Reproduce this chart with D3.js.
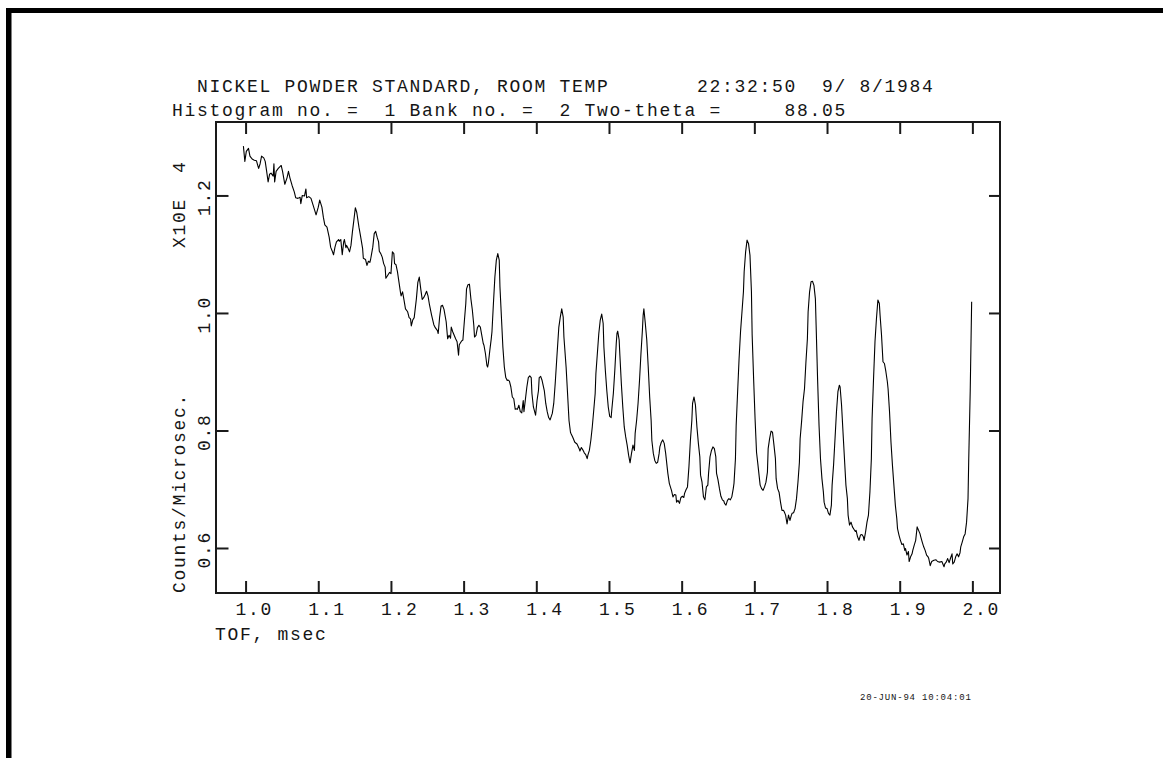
<!DOCTYPE html>
<html>
<head>
<meta charset="utf-8">
<script src="https://cdn.jsdelivr.net/npm/d3@7"></script>
<style>
  html, body { margin: 0; padding: 0; background: #fff; }
  svg { display: block; }
  .mono { font-family: "Liberation Mono", "Courier New", "DejaVu Sans Mono", monospace; fill: #151515; white-space: pre; }
</style>
</head>
<body>
<svg id="chart" width="1163" height="758"></svg>
<script>
// ---------------- data ----------------
const titleLine1 = "  NICKEL POWDER STANDARD, ROOM TEMP       22:32:50  9/ 8/1984";
const titleLine2 = "Histogram no. =  1 Bank no. =  2 Two-theta =     88.05";
const xAxisTitle = "TOF, msec";
const yAxisTitle = "Counts/Microsec.";
const yScaleNote = "X10E  4";
const stamp = "20-JUN-94 10:04:01";

const xTicks = [1.0, 1.1, 1.2, 1.3, 1.4, 1.5, 1.6, 1.7, 1.8, 1.9, 2.0];
const xTickLabels = ["1.0", "1.1", "1.2", "1.3", "1.4", "1.5", "1.6", "1.7", "1.8", "1.9", "2.0"];
const yTicks = [0.6, 0.8, 1.0, 1.2];
const yTickLabels = ["0.6", "0.8", "1.0", "1.2"];

// [TOF (msec), counts/microsec (x10^4)]
const spectrum = [
[0.997,1.284],[0.999,1.258],[1.001,1.275],[1.004,1.280],[1.006,1.267],[1.009,1.262],[1.012,1.260],[1.015,1.259],[1.017,1.250],[1.018,1.246],
[1.020,1.254],[1.022,1.267],[1.025,1.264],[1.027,1.258],[1.029,1.241],[1.031,1.223],[1.033,1.236],[1.035,1.238],[1.038,1.233],[1.039,1.254],
[1.040,1.223],[1.042,1.241],[1.045,1.246],[1.049,1.251],[1.051,1.240],[1.054,1.219],[1.057,1.230],[1.059,1.241],[1.061,1.230],[1.064,1.217],
[1.067,1.206],[1.069,1.196],[1.072,1.195],[1.075,1.197],[1.076,1.186],[1.078,1.200],[1.081,1.199],[1.083,1.211],[1.084,1.196],[1.087,1.198],
[1.090,1.195],[1.093,1.183],[1.095,1.175],[1.097,1.167],[1.100,1.180],[1.102,1.192],[1.105,1.180],[1.107,1.163],[1.109,1.150],[1.112,1.146],
[1.115,1.129],[1.117,1.112],[1.119,1.106],[1.121,1.099],[1.123,1.112],[1.125,1.121],[1.128,1.125],[1.129,1.122],[1.131,1.125],[1.133,1.099],
[1.135,1.121],[1.136,1.125],[1.138,1.111],[1.139,1.115],[1.141,1.110],[1.143,1.104],[1.145,1.115],[1.147,1.138],[1.149,1.158],[1.151,1.179],
[1.153,1.171],[1.156,1.146],[1.158,1.132],[1.161,1.110],[1.162,1.093],[1.165,1.091],[1.167,1.081],[1.169,1.088],[1.171,1.086],[1.172,1.091],
[1.175,1.112],[1.177,1.135],[1.179,1.139],[1.181,1.129],[1.183,1.121],[1.184,1.105],[1.186,1.101],[1.188,1.095],[1.190,1.084],[1.192,1.078],
[1.193,1.059],[1.195,1.063],[1.198,1.069],[1.200,1.067],[1.202,1.104],[1.204,1.101],[1.205,1.084],[1.207,1.082],[1.209,1.070],[1.211,1.053],
[1.213,1.036],[1.214,1.029],[1.216,1.036],[1.218,1.022],[1.220,1.007],[1.223,1.002],[1.225,0.992],[1.227,0.990],[1.228,0.978],[1.230,0.988],
[1.232,0.992],[1.235,1.024],[1.237,1.052],[1.239,1.061],[1.241,1.041],[1.243,1.023],[1.245,1.026],[1.247,1.031],[1.249,1.037],[1.251,1.029],
[1.253,1.014],[1.256,0.996],[1.259,0.980],[1.261,0.975],[1.264,0.970],[1.265,0.965],[1.267,0.993],[1.269,1.012],[1.271,1.013],[1.273,1.006],
[1.276,0.985],[1.278,0.956],[1.280,0.962],[1.282,0.957],[1.283,0.976],[1.285,0.968],[1.287,0.962],[1.289,0.956],[1.291,0.951],[1.293,0.928],
[1.294,0.946],[1.297,0.952],[1.299,0.954],[1.301,0.986],[1.303,1.016],[1.304,1.041],[1.306,1.048],[1.308,1.049],[1.310,1.024],[1.312,1.005],
[1.314,0.979],[1.315,0.959],[1.317,0.962],[1.319,0.975],[1.321,0.979],[1.323,0.976],[1.325,0.962],[1.327,0.948],[1.328,0.945],[1.330,0.931],
[1.332,0.911],[1.333,0.908],
[1.334,0.914],[1.336,0.936],[1.338,0.956],[1.339,0.968],[1.341,1.016],[1.343,1.061],[1.345,1.090],[1.347,1.101],[1.349,1.090],[1.350,1.044],
[1.352,0.993],[1.354,0.942],[1.356,0.908],[1.358,0.890],[1.360,0.885],[1.361,0.886],[1.363,0.884],[1.365,0.874],[1.367,0.857],[1.369,0.854],
[1.371,0.836],[1.372,0.837],[1.374,0.836],[1.376,0.843],[1.378,0.832],[1.380,0.830],[1.382,0.851],[1.383,0.832],[1.385,0.853],[1.387,0.874],
[1.389,0.890],[1.391,0.893],[1.393,0.890],[1.394,0.863],[1.396,0.840],[1.399,0.826],[1.401,0.851],[1.403,0.868],[1.404,0.890],[1.406,0.892],
[1.408,0.885],[1.411,0.868],[1.413,0.846],[1.415,0.832],[1.417,0.822],[1.419,0.818],[1.422,0.829],[1.424,0.846],[1.426,0.880],[1.428,0.919],
[1.431,0.976],[1.433,0.993],[1.435,1.007],[1.437,0.993],[1.438,0.959],[1.441,0.908],[1.443,0.863],[1.445,0.817],[1.447,0.797],[1.448,0.794],
[1.450,0.789],[1.453,0.780],[1.456,0.777],[1.459,0.769],[1.460,0.765],[1.462,0.771],[1.464,0.767],[1.466,0.762],[1.468,0.759],[1.470,0.752],
[1.471,0.758],[1.473,0.766],[1.475,0.783],[1.477,0.806],[1.479,0.834],[1.481,0.863],[1.482,0.897],[1.484,0.931],[1.486,0.965],[1.488,0.988],
[1.490,0.998],[1.492,0.982],[1.493,0.942],[1.495,0.902],[1.497,0.868],[1.499,0.840],[1.501,0.824],[1.503,0.822],[1.504,0.837],[1.506,0.863],
[1.508,0.902],[1.510,0.948],[1.511,0.965],[1.512,0.969],[1.514,0.954],[1.515,0.928],[1.517,0.880],[1.519,0.840],[1.521,0.806],[1.523,0.789],
[1.525,0.775],[1.527,0.758],[1.529,0.745],[1.531,0.761],[1.533,0.775],[1.535,0.766],[1.536,0.795],[1.538,0.817],[1.540,0.846],[1.542,0.885],
[1.544,0.931],[1.546,0.971],[1.547,0.996],[1.548,1.007],[1.550,0.982],[1.552,0.954],[1.554,0.908],[1.556,0.857],[1.558,0.817],[1.559,0.783],
[1.561,0.761],[1.563,0.749],[1.565,0.744],[1.567,0.746],[1.569,0.761],[1.570,0.772],[1.572,0.780],[1.574,0.784],[1.576,0.778],[1.578,0.761],
[1.580,0.738],[1.581,0.727],[1.583,0.710],[1.586,0.698],[1.588,0.687],[1.590,0.691],[1.592,0.690],[1.593,0.678],[1.595,0.681],[1.597,0.676],
[1.599,0.686],[1.601,0.688],[1.603,0.686],[1.604,0.693],[1.606,0.699],[1.608,0.704],[1.610,0.738],[1.612,0.783],[1.614,0.817],[1.615,0.846],
[1.617,0.857],[1.619,0.843],[1.621,0.806],[1.623,0.778],[1.625,0.755],[1.626,0.724],[1.628,0.712],[1.630,0.687],[1.632,0.682],[1.634,0.704],
[1.636,0.707],[1.637,0.727],[1.639,0.755],[1.641,0.766],[1.643,0.772],[1.645,0.769],[1.647,0.755],[1.648,0.727],[1.650,0.716],[1.652,0.701],
[1.654,0.688],[1.656,0.682],[1.658,0.680],[1.659,0.676],[1.661,0.673],[1.663,0.681],[1.665,0.684],[1.667,0.682],
[1.669,0.687],[1.671,0.701],[1.672,0.710],[1.674,0.752],[1.675,0.809],[1.677,0.866],[1.679,0.922],[1.681,0.968],[1.683,1.002],[1.685,1.036],
[1.686,1.070],[1.688,1.104],[1.690,1.124],[1.692,1.118],[1.694,1.098],[1.696,1.036],[1.697,0.962],[1.699,0.888],[1.701,0.820],[1.703,0.763],
[1.705,0.741],[1.707,0.718],[1.708,0.707],[1.710,0.701],[1.712,0.698],[1.714,0.704],[1.716,0.712],[1.718,0.729],[1.719,0.769],[1.721,0.786],
[1.723,0.799],[1.725,0.797],[1.727,0.775],[1.729,0.752],[1.730,0.718],[1.732,0.701],[1.734,0.695],[1.736,0.678],[1.738,0.664],[1.740,0.664],
[1.741,0.662],[1.743,0.656],[1.745,0.641],[1.747,0.656],[1.749,0.647],[1.751,0.656],[1.752,0.659],[1.754,0.660],[1.756,0.667],[1.758,0.684],
[1.760,0.712],[1.762,0.746],[1.763,0.786],[1.765,0.815],[1.767,0.849],[1.769,0.871],[1.771,0.917],[1.773,0.956],[1.774,1.002],[1.776,1.036],
[1.778,1.053],[1.780,1.054],[1.782,1.047],[1.784,1.024],[1.785,0.979],[1.787,0.888],[1.789,0.809],[1.791,0.752],[1.793,0.718],[1.795,0.695],
[1.796,0.678],[1.798,0.668],[1.800,0.667],[1.802,0.659],[1.804,0.656],[1.806,0.673],[1.807,0.707],[1.809,0.741],[1.811,0.786],[1.813,0.832],
[1.815,0.866],[1.817,0.877],[1.818,0.874],[1.820,0.843],[1.822,0.797],[1.824,0.752],[1.826,0.707],[1.828,0.684],[1.829,0.656],[1.831,0.639],
[1.833,0.644],[1.835,0.636],[1.837,0.632],[1.839,0.628],[1.840,0.630],[1.842,0.619],[1.844,0.613],[1.846,0.622],[1.848,0.623],[1.850,0.619],
[1.851,0.613],[1.853,0.627],[1.855,0.644],[1.857,0.656],[1.859,0.695],[1.861,0.752],[1.862,0.820],[1.864,0.888],[1.866,0.951],[1.868,0.990],
[1.870,1.022],[1.872,1.016],[1.873,0.996],[1.875,0.962],[1.877,0.917],[1.879,0.914],[1.881,0.900],[1.883,0.883],[1.884,0.871],[1.886,0.832],
[1.888,0.780],[1.890,0.741],[1.892,0.707],[1.894,0.673],[1.896,0.650],[1.897,0.633],[1.899,0.622],[1.901,0.613],[1.903,0.606],[1.905,0.607],
[1.907,0.596],[1.908,0.599],[1.910,0.588],[1.912,0.594],[1.913,0.577],[1.915,0.585],[1.917,0.590],[1.918,0.596],[1.920,0.605],[1.922,0.613],
[1.924,0.636],[1.926,0.630],[1.928,0.624],[1.929,0.619],[1.931,0.610],[1.933,0.602],[1.935,0.596],[1.937,0.588],[1.939,0.585],[1.940,0.582],
[1.942,0.570],[1.944,0.577],[1.947,0.579],[1.950,0.580],[1.952,0.577],[1.955,0.576],[1.958,0.577],[1.961,0.568],[1.962,0.573],[1.964,0.576],
[1.966,0.582],[1.968,0.575],[1.970,0.583],[1.972,0.590],[1.973,0.573],[1.975,0.576],[1.977,0.585],[1.979,0.590],[1.981,0.585],[1.983,0.592],
[1.984,0.602],[1.986,0.610],[1.988,0.619],[1.990,0.624],[1.992,0.644],[1.994,0.684],[1.995,0.752],[1.997,0.866],[1.999,1.019]
];

// ---------------- layout ----------------
const W = 1163, H = 758;
const plot = { left: 216, top: 122, right: 1000, bottom: 593 };

const svg = d3.select("#chart");

// page border (top and left heavy rules)
svg.append("rect").attr("x", 6).attr("y", 8).attr("width", W - 6).attr("height", 5).attr("fill", "#000");
svg.append("rect").attr("x", 6).attr("y", 8).attr("width", 5.5).attr("height", H - 8).attr("fill", "#000");

const x = d3.scaleLinear().domain([0.9593, 2.038]).range([plot.left, plot.right]);
const y = d3.scaleLinear().domain([0.5234, 1.325]).range([plot.bottom, plot.top]);

const axisStyle = g => {
  g.select(".domain").remove();
  g.selectAll(".tick line").attr("stroke", "#1a1a1a").attr("stroke-width", 2);
  g.selectAll(".tick text").remove();
};

svg.append("g").attr("transform", `translate(0,${plot.bottom})`)
  .call(d3.axisBottom(x).tickValues(xTicks).tickSize(-12).tickFormat("")).call(axisStyle);
svg.append("g").attr("transform", `translate(0,${plot.top})`)
  .call(d3.axisTop(x).tickValues(xTicks).tickSize(-12).tickFormat("")).call(axisStyle);
svg.append("g").attr("transform", `translate(${plot.left},0)`)
  .call(d3.axisLeft(y).tickValues(yTicks).tickSize(-12.5).tickFormat("")).call(axisStyle);
svg.append("g").attr("transform", `translate(${plot.right},0)`)
  .call(d3.axisRight(y).tickValues(yTicks).tickSize(-11).tickFormat("")).call(axisStyle);

// frame
svg.append("rect")
  .attr("x", plot.left).attr("y", plot.top)
  .attr("width", plot.right - plot.left).attr("height", plot.bottom - plot.top)
  .attr("fill", "none").attr("stroke", "#1a1a1a").attr("stroke-width", 2);

// spectrum line
const line = d3.line().x(d => x(d[0])).y(d => y(d[1]));
svg.append("path").datum(spectrum)
  .attr("d", line)
  .attr("fill", "none").attr("stroke", "#000").attr("stroke-width", 1.1)
  .attr("stroke-linejoin", "round");

// text helper
const txt = (s, px, py, size, ls, rot) => {
  const t = svg.append("text").attr("class", "mono")
    .attr("font-size", size).attr("letter-spacing", ls)
    .text(s);
  if (rot) t.attr("transform", `translate(${px},${py}) rotate(-90)`);
  else t.attr("x", px).attr("y", py);
  return t;
};

// titles
txt(titleLine1, 172, 92, 18, 1.7);
txt(titleLine2, 172, 116, 18, 1.7);

// x tick labels
xTicks.forEach((v, i) => txt(xTickLabels[i], x(v) - 10, 615, 18, 1.7));
txt(xAxisTitle, 215, 640, 18, 1.7);

// y tick labels (rotated)
yTicks.forEach((v, i) => txt(yTickLabels[i], 210, y(v) + 20.5, 18, 1.7, true));
txt(yAxisTitle, 185, 593, 18, 1.7, true);
txt(yScaleNote, 185, 248, 18, 1.7, true);

// stamp
txt(stamp, 860, 700, 9, 0.8);
</script>
</body>
</html>
